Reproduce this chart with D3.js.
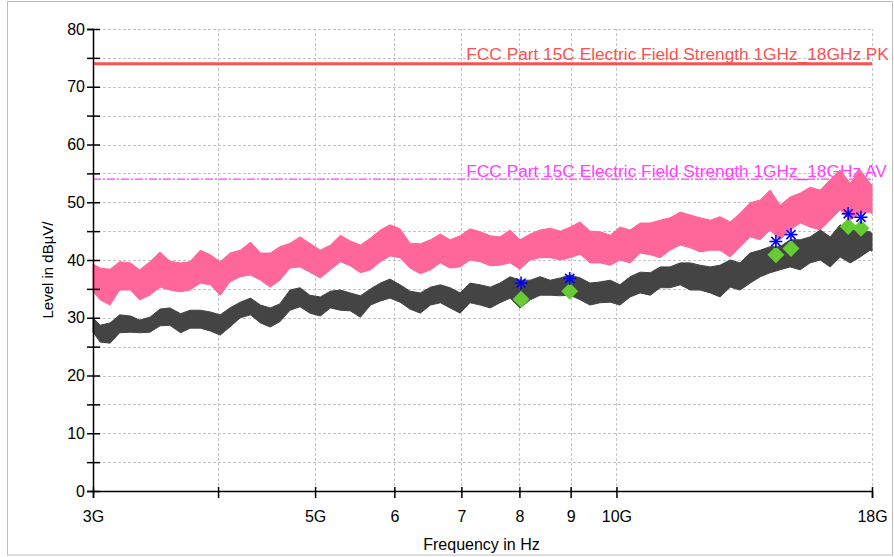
<!DOCTYPE html>
<html><head><meta charset="utf-8">
<script src="https://cdn.jsdelivr.net/npm/d3@7"></script>
<style>
body{margin:0;background:#fff}
svg{display:block}
text{font-family:"Liberation Sans",Arial,Helvetica,sans-serif}
</style>
</head><body>
<svg id="chart" width="894" height="557"></svg>
<script>
// ---------------- data ----------------
const freqGHz = [3.00,3.05,3.12,3.19,3.27,3.34,3.42,3.50,3.58,3.67,
3.75,3.84,3.93,4.02,4.11,4.21,4.31,4.41,4.51,4.61,
4.72,4.83,4.94,5.06,5.18,5.30,5.42,5.55,5.68,5.81,
5.94,6.08,6.22,6.37,6.52,6.67,6.82,6.98,7.14,7.31,
7.48,7.65,7.83,8.01,8.20,8.39,8.59,8.79,8.99,9.20,
9.41,9.63,9.86,10.08,10.32,10.56,10.81,11.06,11.31,11.58,
11.85,12.12,12.41,12.69,12.99,13.29,13.60,13.92,14.24,14.57,
14.91,15.26,15.61,15.98,16.35,16.73,17.12,17.51,17.92,18.00];

// peak trace (pink) upper / lower envelope, dBuV/m
const pkHigh = [39.3,38.6,38.4,39.7,39.5,38.3,39.7,41.4,39.8,39.5,
39.7,41.7,40.9,39.7,41.2,41.7,43.1,41.2,41.2,42.3,
42.9,44.0,42.9,41.7,42.6,44.3,43.3,42.6,43.8,45.2,
46.1,45.4,42.9,42.8,43.5,44.5,43.5,44.2,45.4,44.9,
44.2,44.0,45.2,43.5,44.5,45.2,45.5,45.0,45.7,46.6,
45.0,44.9,44.3,45.7,45.2,46.4,46.4,46.9,47.3,48.3,
47.8,47.3,46.9,47.5,46.6,48.1,49.9,50.4,52.1,49.5,
50.9,51.6,52.6,52.1,53.9,55.6,53.3,55.6,53.3,53.0];
const pkLow = [34.5,33.1,32.2,34.8,34.8,33.1,33.9,35.3,34.8,34.5,
34.8,36.0,35.7,33.9,36.2,37.1,37.4,36.5,35.3,36.5,
38.6,38.8,37.9,36.9,38.3,39.7,39.0,37.8,38.3,39.7,
40.7,40.4,38.6,37.6,38.3,39.5,38.6,38.8,40.0,39.7,
39.0,39.1,39.5,38.4,40.0,40.4,40.4,40.0,40.4,41.0,
39.5,39.5,39.1,40.0,39.5,41.2,40.9,40.4,41.7,42.6,
42.1,41.4,41.7,41.7,40.5,42.3,44.0,43.5,45.2,43.5,
45.2,46.4,45.7,45.2,46.9,48.7,46.9,48.1,48.3,48.0];

// average trace (dark grey) upper / lower envelope
const avHigh = [30.0,28.7,29.1,30.5,30.3,29.6,30.1,31.5,31.7,30.7,
31.3,31.3,31.0,30.5,31.7,32.7,33.4,32.2,31.7,32.4,
34.8,35.2,33.9,33.6,34.6,34.8,34.3,33.8,35.0,36.0,
36.7,35.7,34.6,34.3,35.3,35.7,35.2,34.3,36.0,35.7,
35.3,36.0,37.1,36.5,36.5,37.1,36.5,36.9,37.4,36.9,
36.0,36.2,36.5,35.7,37.1,37.9,37.8,38.8,38.8,39.5,
39.5,39.1,38.8,39.1,40.0,39.5,41.2,41.7,42.3,42.3,
43.5,43.5,44.0,45.2,44.0,46.1,45.2,45.2,44.9,44.6];
const avLow = [27.5,25.8,25.6,27.4,27.5,27.4,27.5,28.6,28.7,27.4,
28.2,28.2,27.7,27.0,28.4,30.0,30.5,29.1,28.4,29.3,
31.3,31.9,30.8,30.3,31.7,31.3,31.2,30.1,32.2,32.9,
33.4,32.7,31.5,30.8,32.2,32.6,31.7,30.8,32.6,32.2,
31.7,32.6,33.4,31.7,33.1,33.9,33.9,33.8,33.9,33.1,
32.2,32.6,32.7,32.2,33.6,34.3,33.9,35.2,35.2,35.7,
34.8,34.8,34.3,33.6,35.3,34.8,36.0,37.1,37.8,38.3,
38.8,38.3,39.5,40.0,38.8,40.5,39.5,40.5,41.7,41.5];

// final measurement markers
const markerFreq = [8.03, 8.98, 14.43, 14.94, 17.04, 17.55];
const markerPk   = [36.0, 36.8, 43.2, 44.4, 48.0, 47.4];
const markerAv   = [33.2, 34.6, 40.9, 42.0, 45.8, 45.5];

// limit lines
const limitPK = 74;
const limitAV = 54;
const limitPKLabel = "FCC Part 15C Electric Field Strength 1GHz_18GHz PK";
const limitAVLabel = "FCC Part 15C Electric Field Strength 1GHz_18GHz AV";
const limitLabelFreq = 7.08;

// axes
const xDomain = [3, 18];
const yDomain = [0, 80];
const xTickValues = [3, 4, 5, 6, 7, 8, 9, 10, 18];
const xTickLabels = ["3G", "", "5G", "6", "7", "8", "9", "10G", "18G"];
const xGridValues = [4, 5, 6, 7, 8, 9, 10, 18];
const yTickValues = [0, 10, 20, 30, 40, 50, 60, 70, 80];
const yMinorValues = [5, 15, 25, 35, 45, 55, 65, 75];
const yGridValues = [5, 10, 15, 20, 25, 30, 35, 40, 45, 50, 55, 60, 65, 70, 75, 80];
const xTitle = "Frequency in Hz";
const yTitle = "Level in dBµV/";

// ---------------- drawing ----------------
const svg = d3.select("#chart");
const W = 894, H = 557;
const m = {left: 93, right: 22, top: 29, bottom: 66};
const x = d3.scaleLog().domain(xDomain).range([m.left, W - m.right]);
const y = d3.scaleLinear().domain(yDomain).range([H - m.bottom, m.top]);

svg.append("rect").attr("width", W).attr("height", H).attr("fill", "#fff");
svg.append("rect").attr("x", 7.5).attr("y", 1.5).attr("width", 885).attr("height", 553.5)
  .attr("fill", "none").attr("stroke", "#bdbdbd").attr("stroke-width", 1);

// grid
const grid = svg.append("g").attr("stroke", "#c4c4c4").attr("stroke-width", 1)
  .attr("stroke-dasharray", "3,2");
grid.selectAll("line.h").data(yGridValues).join("line")
  .attr("x1", x(xDomain[0])).attr("x2", x(xDomain[1]))
  .attr("y1", d => Math.round(y(d)) + 0.5).attr("y2", d => Math.round(y(d)) + 0.5);
grid.selectAll("line.v").data(xGridValues).join("line")
  .attr("x1", d => Math.round(x(d)) + 0.5).attr("x2", d => Math.round(x(d)) + 0.5)
  .attr("y1", y(yDomain[0])).attr("y2", y(yDomain[1]));

// limit lines + labels
svg.append("line").attr("x1", x(xDomain[0])).attr("x2", x(xDomain[1]))
  .attr("y1", y(limitPK)).attr("y2", y(limitPK))
  .attr("stroke", "#ff5050").attr("stroke-width", 3);
svg.append("line").attr("x1", x(xDomain[0])).attr("x2", x(xDomain[1]))
  .attr("y1", y(limitAV)).attr("y2", y(limitAV))
  .attr("stroke", "#ff40ff").attr("stroke-width", 1.2).attr("stroke-dasharray", "8,2,2,2");
svg.append("text").attr("x", x(limitLabelFreq)).attr("y", y(limitPK) - 3.5)
  .attr("fill", "#ff5050").attr("font-size", 17.3).text(limitPKLabel);
svg.append("text").attr("x", x(limitLabelFreq)).attr("y", y(limitAV) - 2.5)
  .attr("fill", "#ff40ff").attr("font-size", 17.3).text(limitAVLabel);

// traces
const idx = d3.range(freqGHz.length);
const areaPk = d3.area().x(i => x(freqGHz[i])).y0(i => y(pkLow[i])).y1(i => y(pkHigh[i]));
const areaAv = d3.area().x(i => x(freqGHz[i])).y0(i => y(avLow[i])).y1(i => y(avHigh[i]));
svg.append("path").attr("d", areaPk(idx)).attr("fill", "#ff6699")
  .attr("stroke", "#ff6699").attr("stroke-width", 1);
svg.append("path").attr("d", areaAv(idx)).attr("fill", "#444444")
  .attr("stroke", "#444444").attr("stroke-width", 1);

// markers
svg.append("g").selectAll("path").data(markerFreq).join("path")
  .attr("transform", (d, i) => `translate(${x(d)},${y(markerAv[i])}) rotate(45)`)
  .attr("d", "M-6,-6H6V6H-6Z").attr("fill", "#66cc33");
const ast = svg.append("g").attr("stroke", "#0000ff").attr("stroke-width", 1.6);
markerFreq.forEach((f, i) => {
  const g = ast.append("g").attr("transform", `translate(${x(f)},${y(markerPk[i])})`);
  [0, 45, 90, 135].forEach(a => {
    g.append("line").attr("x1", -6.5).attr("x2", 6.5).attr("transform", `rotate(${a})`);
  });
});

// axes
const xAxis = d3.axisBottom(x).tickValues(xTickValues)
  .tickFormat((d, i) => xTickLabels[i]).tickSizeOuter(0).tickSize(7);
const gx = svg.append("g").attr("transform", `translate(0,${y(0)})`).call(xAxis);
gx.select(".domain").attr("stroke", "#000").attr("stroke-width", 1.5);
gx.selectAll(".tick line").attr("y1", -4).attr("y2", 7).attr("stroke-width", 1.5);
gx.selectAll(".tick text").attr("y", 20).attr("font-size", 16)
  .attr("font-family", "Liberation Sans, Arial, sans-serif").attr("fill", "#000");

const yAxis = d3.axisLeft(y).tickValues(yTickValues).tickSizeOuter(0).tickSize(6).tickPadding(2);
const gy = svg.append("g").attr("transform", `translate(${x(3)},0)`).call(yAxis);
gy.select(".domain").attr("stroke", "#000").attr("stroke-width", 1.5);
gy.selectAll(".tick line").attr("x1", 7).attr("x2", -6).attr("stroke-width", 1.5);
gy.selectAll(".tick text").attr("font-size", 16)
  .attr("font-family", "Liberation Sans, Arial, sans-serif").attr("fill", "#000");
const yMinor = d3.axisLeft(y).tickValues(yMinorValues).tickFormat("").tickSizeOuter(0).tickSize(6);
const gym = svg.append("g").attr("transform", `translate(${x(3)},0)`).call(yMinor);
gym.select(".domain").remove();
gym.selectAll(".tick line").attr("x1", 7).attr("x2", -6).attr("stroke-width", 1.5);

// titles
svg.append("text").attr("x", (x(xDomain[0]) + x(xDomain[1])) / 2 - 1).attr("y", 550)
  .attr("text-anchor", "middle").attr("font-size", 16).text(xTitle);
svg.append("text").attr("transform", `translate(53,${(y(0) + y(80)) / 2 + 10}) rotate(-90)`)
  .attr("text-anchor", "middle").attr("font-size", 15).text(yTitle);
</script>
</body></html>
